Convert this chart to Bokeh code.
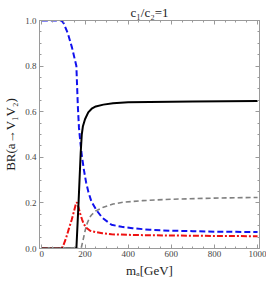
from bokeh.plotting import figure
from bokeh.models import (Range1d, LinearAxis, SingleIntervalTicker, CustomJSTickFormatter,
                          PrintfTickFormatter)
from bokeh.embed import file_html
from bokeh.resources import INLINE

# gamma gamma (blue dashed)
x_blue = [0, 91, 100, 120, 140, 160, 163, 167, 172, 178, 185, 194, 205, 216, 230, 254, 280, 323, 370, 420, 500, 600, 700, 800, 900, 1000]
y_blue = [1.0, 1.0, 0.99, 0.945, 0.88, 0.80, 0.72, 0.62, 0.53, 0.47, 0.41, 0.35, 0.29, 0.247, 0.205, 0.167, 0.135, 0.104, 0.095, 0.089, 0.082, 0.078, 0.076, 0.074, 0.073, 0.072]
# Z gamma (red dash-dot)
x_red = [0, 92, 100, 112, 125, 138, 148, 156, 162, 170, 178, 186, 194, 205, 224, 250, 280, 323, 400, 500, 600, 800, 1000]
y_red = [0.0, 0.0, 0.015, 0.045, 0.086, 0.125, 0.16, 0.19, 0.203, 0.18, 0.152, 0.128, 0.108, 0.092, 0.078, 0.072, 0.067, 0.062, 0.060, 0.058, 0.057, 0.055, 0.054]
# W W (black solid)
x_black = [0, 160, 165, 170, 175, 180, 185, 190, 200, 215, 231, 250, 285, 330, 400, 500, 700, 1000]
y_black = [0.0, 0.0, 0.1, 0.2, 0.31, 0.42, 0.50, 0.535, 0.567, 0.597, 0.613, 0.623, 0.631, 0.637, 0.641, 0.643, 0.645, 0.647]
# Z Z (gray dashed)
x_gray = [0, 182, 188, 194, 201, 210, 222, 231, 250, 285, 330, 376, 467, 600, 800, 1000]
y_gray = [0.0, 0.0, 0.025, 0.05, 0.08, 0.11, 0.137, 0.148, 0.165, 0.181, 0.195, 0.203, 0.21, 0.216, 0.221, 0.224]

x_tick_step = 200
y_tick_step = 0.2
title_text = "c₁/c₂=1"
x_label_text = "mₐ[GeV]"
y_label_text = "BR(a→V₁V₂)"

SERIF = "Liberation Serif"
FRAME = "#9a9a9a"

p = figure(width=266, height=281, output_backend="svg", toolbar_location=None,
           x_range=Range1d(-11, 1009), y_range=Range1d(0, 1),
           min_border_left=35, min_border_right=7, min_border_top=20, min_border_bottom=33,
           title=title_text)
p.xgrid.visible = False
p.ygrid.visible = False
p.outline_line_color = FRAME
p.title.text_font = SERIF
p.title.text_font_size = "13px"
p.title.text_font_style = "normal"
p.title.text_color = "#222222"
p.title.align = "center"
p.title.standoff = 2

def style_axis(ax, labels=True):
    ax.axis_line_color = FRAME
    ax.major_tick_line_color = FRAME
    ax.minor_tick_line_color = FRAME
    ax.major_tick_in = 4
    ax.major_tick_out = 0
    ax.minor_tick_in = 2
    ax.minor_tick_out = 0
    if labels:
        ax.major_label_text_font = SERIF
        ax.major_label_text_font_size = "9px"
        ax.major_label_text_color = "#444444"
        ax.axis_label_text_font = SERIF
        ax.axis_label_text_font_style = "normal"
        ax.axis_label_text_color = "#222222"
    else:
        ax.formatter = CustomJSTickFormatter(code="return ''")
        ax.major_label_standoff = 0
        ax.axis_label = None

p.xaxis.ticker = SingleIntervalTicker(interval=x_tick_step, num_minor_ticks=4)
p.yaxis.ticker = SingleIntervalTicker(interval=y_tick_step, num_minor_ticks=4)
p.yaxis.formatter = PrintfTickFormatter(format="%.1f")
p.xaxis.axis_label = x_label_text
p.yaxis.axis_label = y_label_text
style_axis(p.xaxis[0])
style_axis(p.yaxis[0])
p.xaxis.major_label_standoff = 2
p.xaxis.axis_label_standoff = 3
p.xaxis.axis_label_text_font_size = "13px"
p.yaxis.major_label_standoff = 3
p.yaxis.axis_label_standoff = 4
p.yaxis.axis_label_text_font_size = "13px"

ax_top = LinearAxis(ticker=SingleIntervalTicker(interval=x_tick_step, num_minor_ticks=4))
ax_right = LinearAxis(ticker=SingleIntervalTicker(interval=y_tick_step, num_minor_ticks=4))
style_axis(ax_top, labels=False)
style_axis(ax_right, labels=False)
p.add_layout(ax_top, "above")
p.add_layout(ax_right, "right")

p.line(x_gray, y_gray, line_color="#808080", line_width=1.6, line_dash="5 3")
p.line(x_red, y_red, line_color="#ee1111", line_width=2, line_dash="6 2 2 2")
p.line(x_blue, y_blue, line_color="#1111ee", line_width=2, line_dash="6 3")
p.line(x_black, y_black, line_color="#000000", line_width=2)

open("out.html", "w").write(file_html(p, INLINE))
